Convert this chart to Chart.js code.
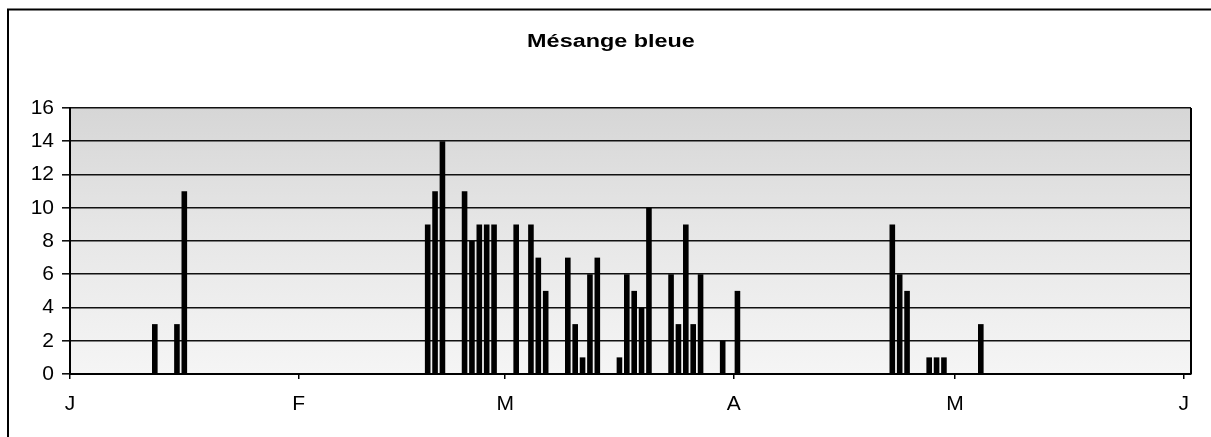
<!DOCTYPE html>
<html lang="fr">
<head>
<meta charset="utf-8">
<title>Mésange bleue</title>
<script src="https://cdn.jsdelivr.net/npm/chart.js@4/dist/chart.umd.min.js"></script>
<style>
  html, body { margin: 0; padding: 0; background: #fff; }
  #cadre { width: 1211px; height: 437px; }
</style>
</head>
<body>
<div id="cadre"><canvas id="graphMesange"></canvas></div>
<script>
// relevés (jj/mm) et nombre d'oiseaux vus ce jour-là
const titre = 'Mésange bleue';
const datesObs = ['12/01', '15/01', '16/01',
    '18/02', '19/02', '20/02', '23/02', '24/02', '25/02', '26/02', '27/02',
    '02/03', '04/03', '05/03', '06/03', '09/03', '10/03', '11/03', '12/03', '13/03',
    '16/03', '17/03', '18/03', '19/03', '20/03', '23/03', '24/03', '25/03', '26/03', '27/03',
    '30/03', '01/04', '22/04', '23/04', '24/04', '27/04', '28/04', '29/04', '04/05'];
const nbOiseaux = [3, 3, 11,
    9, 11, 14, 11, 8, 9, 9, 9,
    9, 9, 7, 5, 7, 3, 1, 6, 7,
    1, 6, 5, 4, 10, 6, 3, 9, 3, 6,
    2, 5, 9, 6, 5, 1, 1, 1, 3];
const moisLettres = ['J', 'F', 'M', 'A', 'M', 'J'];
const joursParMois = [31, 28, 31, 30, 31];

// premier jour de chaque mois, en jours depuis le 1er janvier
const debutsMois = [0];
joursParMois.forEach(function (n, i) { debutsMois.push(debutsMois[i] + n); });

function jourDeLAnnee(jjmm) {
    const p = jjmm.split('/');
    return debutsMois[parseInt(p[1], 10) - 1] + parseInt(p[0], 10) - 1;
}

// chaque barre occupe la case de son jour
const points = [];
for (let i = 0; i < datesObs.length; i++) {
    points.push({x: jourDeLAnnee(datesObs[i]) + 0.5, y: nbOiseaux[i]});
}

const policeAxes = {family: '"Liberation Sans", Arial, sans-serif', size: 21};

// fond grisé de la zone de tracé
const fondZone = {
    id: 'fondZone',
    beforeDraw: function (chart) {
        const a = chart.chartArea;
        const c = chart.ctx;
        const g = c.createLinearGradient(0, a.top, 0, a.bottom);
        g.addColorStop(0, '#d6d6d6');
        g.addColorStop(0.45, '#e6e6e6');
        g.addColorStop(1, '#f5f5f5');
        c.save();
        c.fillStyle = g;
        c.fillRect(a.left, a.top, a.right - a.left, a.bottom - a.top);
        c.restore();
    }
};

// cadre extérieur, bord droit de la zone et titre
const habillage = {
    id: 'habillage',
    afterDraw: function (chart) {
        const a = chart.chartArea;
        const c = chart.ctx;
        c.save();
        c.strokeStyle = '#000';
        c.lineWidth = 2;
        c.beginPath();
        c.moveTo(a.right, a.top);
        c.lineTo(a.right, a.bottom);
        c.stroke();

        c.beginPath();
        c.moveTo(8, 440);
        c.lineTo(8, 9.5);
        c.lineTo(1211, 9.5);
        c.stroke();

        c.font = 'bold 18px "Liberation Sans", Arial, sans-serif';
        c.fillStyle = '#000';
        c.textAlign = 'center';
        c.textBaseline = 'alphabetic';
        c.translate(611, 47);
        c.scale(1.3, 1);
        c.fillText(titre, 0, 0);
        c.restore();
    }
};

const ctx = document.getElementById('graphMesange');
const graphMesange = new Chart(ctx, {
    type: 'bar',
    data: {
        datasets: [{
            label: titre,
            data: points,
            backgroundColor: '#000',
            borderWidth: 0,
            barPercentage: 0.76,
            categoryPercentage: 1
        }]
    },
    options: {
        responsive: true,
        maintainAspectRatio: false,
        animation: false,
        layout: {padding: {top: 108, right: 20, left: 0, bottom: 0}},
        plugins: {
            legend: {display: false},
            title: {display: false},
            tooltip: {enabled: false}
        },
        scales: {
            x: {
                type: 'linear',
                min: 0,
                max: 152,
                offset: false,
                afterBuildTicks: function (scale) {
                    scale.ticks = debutsMois.map(function (v) { return {value: v}; });
                },
                afterFit: function (scale) { scale.height = 63; },
                ticks: {
                    autoSkip: false,
                    maxRotation: 0,
                    padding: 13,
                    color: '#000',
                    font: policeAxes,
                    callback: function (v) { return moisLettres[debutsMois.indexOf(v)]; }
                },
                grid: {offset: false, drawOnChartArea: false, drawTicks: true, tickLength: 5, color: '#000', lineWidth: 1.5},
                border: {color: '#000', width: 2}
            },
            y: {
                min: 0,
                max: 16,
                afterFit: function (scale) { scale.width = 70; },
                ticks: {stepSize: 2, padding: 8, color: '#000', font: policeAxes},
                grid: {color: '#111', lineWidth: 1.6, tickLength: 8},
                border: {color: '#000', width: 2}
            }
        }
    },
    plugins: [fondZone, habillage]
});
</script>
</body>
</html>
